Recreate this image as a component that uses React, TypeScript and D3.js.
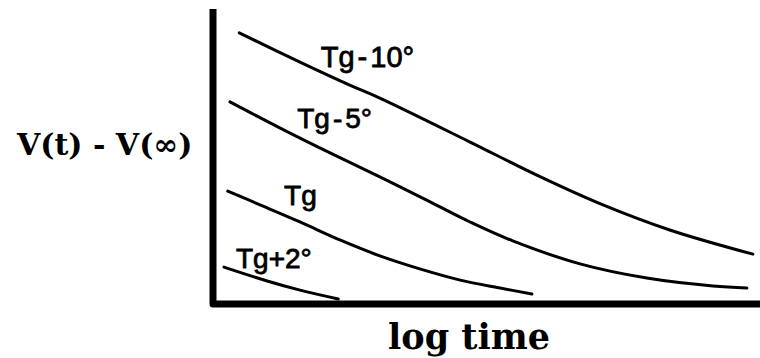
import React from "react";
import * as d3 from "d3";

// Relaxation curves V(t) - V(∞) against log time, in arbitrary units (0–100 on both axes)
const seriesNames = ["Tg-10°", "Tg-5°", "Tg", "Tg+2°"];

const tgMinus10X = [4.8, 15.9, 25.0, 30.5, 47.0, 59.2, 71.3, 83.5, 98.7];
const tgMinus10Y = [91.9, 82.0, 74.2, 69.8, 54.9, 43.7, 33.6, 25.1, 16.9];

const tgMinus5X = [3.1, 12.2, 21.4, 30.5, 39.7, 47.0, 54.8, 67.1, 79.3, 91.4, 97.6];
const tgMinus5Y = [68.5, 59.7, 51.2, 43.1, 34.6, 27.8, 21.4, 13.6, 8.8, 6.1, 5.4];

const tgX = [2.7, 8.6, 15.9, 23.2, 30.5, 37.8, 45.2, 52.5, 58.3];
const tgY = [38.3, 33.6, 27.8, 21.7, 16.3, 11.9, 8.1, 5.4, 3.4];

const tgPlus2X = [2.0, 9.9, 15.9, 22.9];
const tgPlus2Y = [12.5, 7.8, 4.7, 1.7];

const seriesX = [tgMinus10X, tgMinus5X, tgX, tgPlus2X];
const seriesY = [tgMinus10Y, tgMinus5Y, tgY, tgPlus2Y];

const yAxisTitle = "V(t) - V(\u221E)";
const xAxisTitle = "log time";

const WIDTH = 760;
const HEIGHT = 358;

// Plot frame
const X0 = 213;
const X1 = 760;
const Y0 = 304;
const Y1 = 9;

// Label anchors (data units) and sizes for each curve name
const labelLayout = [
  { x: 19.7, y: 80.3, size: 29 },
  { x: 15.4, y: 59.7, size: 28 },
  { x: 13.0, y: 33.6, size: 28 },
  { x: 4.2, y: 12.2, size: 28 },
];

function CurveLabel({ name, x, y, size }: { name: string; x: number; y: number; size: number }) {
  // "Tg" followed by the temperature offset, with a little air around a minus sign
  const rest = name.slice(2);
  const sign = rest.slice(0, 1);
  const num = rest.slice(1);
  const gap = sign === "-" ? 3 : 0;
  return (
    <text
      x={x}
      y={y}
      fontFamily="'Liberation Sans', Arial, sans-serif"
      fontSize={size}
      fill="#000"
      stroke="#000"
      strokeWidth={0.8}
    >
      <tspan>T</tspan>
      <tspan>g</tspan>
      {sign && <tspan dx={gap}>{sign}</tspan>}
      {num && <tspan dx={gap}>{num}</tspan>}
    </text>
  );
}

export default function App() {
  const x = d3.scaleLinear().domain([0, 100]).range([X0, X1]);
  const y = d3.scaleLinear().domain([0, 100]).range([Y0, Y1]);

  const line = d3
    .line<[number, number]>()
    .x((d) => x(d[0]))
    .y((d) => y(d[1]))
    .curve(d3.curveCatmullRom.alpha(0.5));

  const axisPath = `M${x(0)},${y(100)} L${x(0)},${y(0)} L${x(100)},${y(0)}`;

  return (
    <svg
      width={WIDTH}
      height={HEIGHT}
      viewBox={`0 0 ${WIDTH} ${HEIGHT}`}
      style={{ position: "absolute", left: 0, top: 0, background: "#fff" }}
    >
      <rect width={WIDTH} height={HEIGHT} fill="#fff" />

      {/* axes */}
      <path d={axisPath} fill="none" stroke="#000" strokeWidth={7} strokeLinejoin="round" />

      {/* curves */}
      {seriesX.map((xs, i) => {
        const pts = xs.map((v, j) => [v, seriesY[i][j]] as [number, number]);
        return (
          <path
            key={seriesNames[i]}
            d={line(pts) || ""}
            fill="none"
            stroke="#000"
            strokeWidth={3}
            strokeLinecap="round"
          />
        );
      })}

      {/* curve names */}
      {seriesNames.map((name, i) => (
        <CurveLabel
          key={name}
          name={name}
          x={x(labelLayout[i].x)}
          y={y(labelLayout[i].y)}
          size={labelLayout[i].size}
        />
      ))}

      {/* axis titles */}
      <text
        x={17}
        y={155}
        fontFamily="'DejaVu Serif', serif"
        fontWeight="bold"
        fontSize={30}
        fill="#000"
      >
        {yAxisTitle}
      </text>
      <text
        x={388}
        y={349}
        fontFamily="'DejaVu Serif', serif"
        fontWeight="bold"
        fontSize={35}
        fill="#000"
      >
        {xAxisTitle}
      </text>
    </svg>
  );
}
